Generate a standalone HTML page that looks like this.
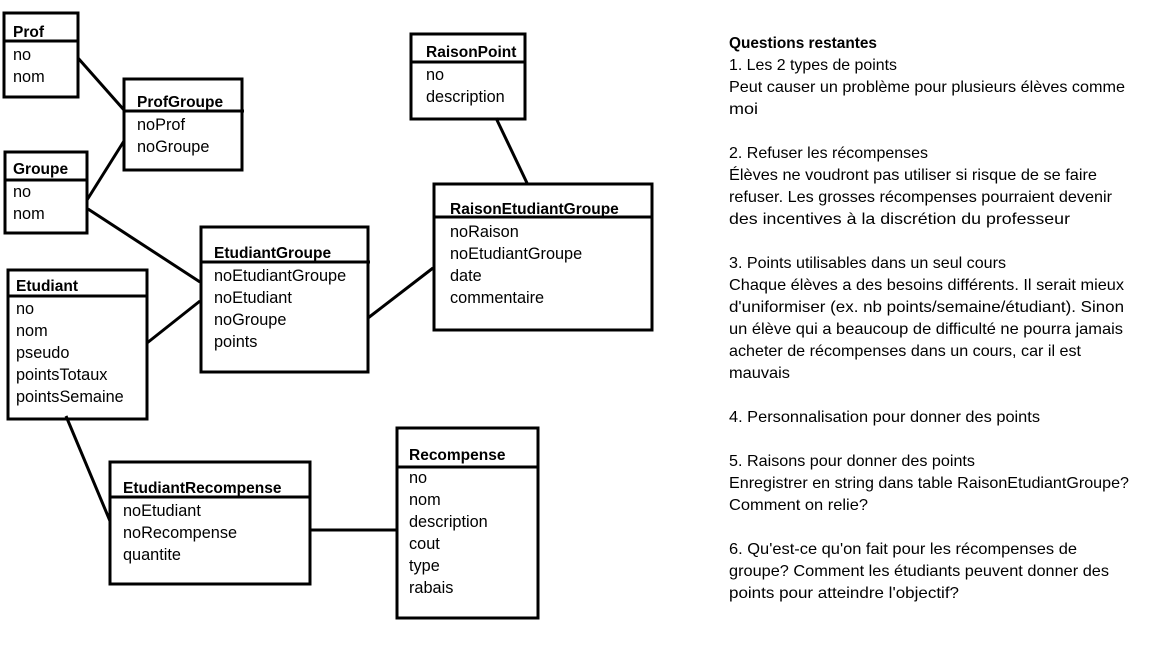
<!DOCTYPE html>
<html><head><meta charset="utf-8"><style>
html,body{margin:0;padding:0;background:#fff;}
svg{display:block;}
text{font-family:"Liberation Sans",sans-serif;font-size:16.3px;fill:#000;}
.b{font-weight:bold;font-size:15.5px;}
.r text{font-size:16px;}
.r text.b{font-size:15.5px;}
</style></head><body>
<svg width="1152" height="648" viewBox="0 0 1152 648" xmlns="http://www.w3.org/2000/svg">
<g stroke="#000" stroke-width="3" fill="none">
<line x1="78" y1="58" x2="124" y2="110"/>
<line x1="87" y1="200" x2="124" y2="141"/>
<line x1="88" y1="209" x2="200" y2="282"/>
<line x1="147" y1="343" x2="200" y2="301"/>
<line x1="368" y1="318" x2="433" y2="268"/>
<line x1="496" y1="118" x2="527" y2="183"/>
<line x1="66" y1="416" x2="110" y2="521"/>
<line x1="310" y1="530" x2="396" y2="530"/>
<rect x="4" y="13" width="74" height="84"/><line x1="4" y1="41" x2="78" y2="41"/>
<rect x="124" y="79" width="118" height="91"/><line x1="124" y1="111" x2="244" y2="111"/>
<rect x="5" y="152" width="82" height="81"/><line x1="5" y1="180" x2="87" y2="180"/>
<rect x="201" y="227" width="167" height="145"/><line x1="201" y1="262" x2="370" y2="262"/>
<rect x="8" y="270" width="139" height="149"/><line x1="8" y1="296" x2="147" y2="296"/>
<rect x="411" y="34" width="114" height="85"/><line x1="411" y1="62" x2="525" y2="62"/>
<rect x="434" y="184" width="218" height="146"/><line x1="434" y1="217" x2="652" y2="217"/>
<rect x="110" y="462" width="200" height="122"/><line x1="110" y1="497" x2="310" y2="497"/>
<rect x="397" y="428" width="141" height="190"/><line x1="396" y1="467" x2="538" y2="467"/>
</g>
<text class="b" x="13" y="37">Prof</text>
<text x="13" y="60">no</text><text x="13" y="82">nom</text>
<text class="b" x="137" y="107">ProfGroupe</text>
<text x="137" y="130">noProf</text><text x="137" y="152">noGroupe</text>
<text class="b" x="13" y="174">Groupe</text>
<text x="13" y="197">no</text><text x="13" y="219">nom</text>
<text class="b" x="214" y="258">EtudiantGroupe</text>
<text x="214" y="281">noEtudiantGroupe</text><text x="214" y="303">noEtudiant</text><text x="214" y="325">noGroupe</text><text x="214" y="347">points</text>
<text class="b" x="16" y="291">Etudiant</text>
<text x="16" y="314">no</text><text x="16" y="336">nom</text><text x="16" y="358">pseudo</text><text x="16" y="380">pointsTotaux</text><text x="16" y="402">pointsSemaine</text>
<text class="b" x="426" y="57">RaisonPoint</text>
<text x="426" y="80">no</text><text x="426" y="102">description</text>
<text class="b" x="450" y="214">RaisonEtudiantGroupe</text>
<text x="450" y="237">noRaison</text><text x="450" y="259">noEtudiantGroupe</text><text x="450" y="281">date</text><text x="450" y="303">commentaire</text>
<text class="b" x="123" y="493">EtudiantRecompense</text>
<text x="123" y="516">noEtudiant</text><text x="123" y="538">noRecompense</text><text x="123" y="560">quantite</text>
<text class="b" x="409" y="460">Recompense</text>
<text x="409" y="483">no</text><text x="409" y="505">nom</text><text x="409" y="527">description</text><text x="409" y="549">cout</text><text x="409" y="571">type</text><text x="409" y="593">rabais</text>
<g class="r">
<text class="b" x="729" y="48" textLength="148" lengthAdjust="spacingAndGlyphs">Questions restantes</text>
<text x="729" y="70" textLength="168" lengthAdjust="spacingAndGlyphs">1. Les 2 types de points</text>
<text x="729" y="92" textLength="396" lengthAdjust="spacingAndGlyphs">Peut causer un problème pour plusieurs élèves comme</text>
<text x="729" y="114" textLength="29" lengthAdjust="spacingAndGlyphs">moi</text>
<text x="729" y="158" textLength="199" lengthAdjust="spacingAndGlyphs">2. Refuser les récompenses</text>
<text x="729" y="180" textLength="368" lengthAdjust="spacingAndGlyphs">Élèves ne voudront pas utiliser si risque de se faire</text>
<text x="729" y="202" textLength="383" lengthAdjust="spacingAndGlyphs">refuser. Les grosses récompenses pourraient devenir</text>
<text x="729" y="224" textLength="341" lengthAdjust="spacingAndGlyphs">des incentives à la discrétion du professeur</text>
<text x="729" y="268" textLength="277" lengthAdjust="spacingAndGlyphs">3. Points utilisables dans un seul cours</text>
<text x="729" y="290" textLength="395" lengthAdjust="spacingAndGlyphs">Chaque élèves a des besoins différents. Il serait mieux</text>
<text x="729" y="312" textLength="395" lengthAdjust="spacingAndGlyphs">d'uniformiser (ex. nb points/semaine/étudiant). Sinon</text>
<text x="729" y="334" textLength="394" lengthAdjust="spacingAndGlyphs">un élève qui a beaucoup de difficulté ne pourra jamais</text>
<text x="729" y="356" textLength="352" lengthAdjust="spacingAndGlyphs">acheter de récompenses dans un cours, car il est</text>
<text x="729" y="378" textLength="61" lengthAdjust="spacingAndGlyphs">mauvais</text>
<text x="729" y="422" textLength="311" lengthAdjust="spacingAndGlyphs">4. Personnalisation pour donner des points</text>
<text x="729" y="466" textLength="246" lengthAdjust="spacingAndGlyphs">5. Raisons pour donner des points</text>
<text x="729" y="488" textLength="400" lengthAdjust="spacingAndGlyphs">Enregistrer en string dans table RaisonEtudiantGroupe?</text>
<text x="729" y="510" textLength="139" lengthAdjust="spacingAndGlyphs">Comment on relie?</text>
<text x="729" y="554" textLength="348" lengthAdjust="spacingAndGlyphs">6. Qu'est-ce qu'on fait pour les récompenses de</text>
<text x="729" y="576" textLength="380" lengthAdjust="spacingAndGlyphs">groupe? Comment les étudiants peuvent donner des</text>
<text x="729" y="598" textLength="230" lengthAdjust="spacingAndGlyphs">points pour atteindre l'objectif?</text>
</g>
</svg>
</body></html>
